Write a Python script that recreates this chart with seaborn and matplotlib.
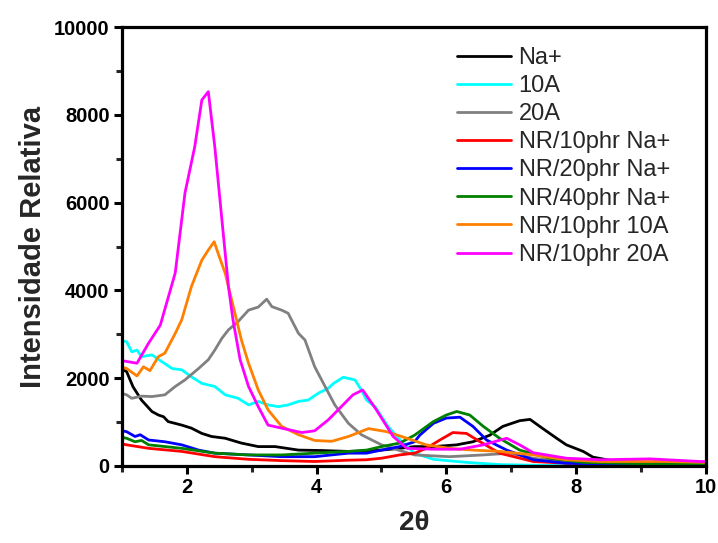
import pandas as pd
import matplotlib
matplotlib.use("Agg")
import matplotlib.pyplot as plt
import seaborn as sns
from matplotlib.ticker import MultipleLocator

# series (2theta, relative intensity)
na_x = [1.0, 1.07, 1.17, 1.30, 1.46, 1.56, 1.64, 1.71, 1.92, 2.07, 2.23, 2.38, 2.59, 2.84, 3.10, 3.36, 3.72, 4.08, 4.49, 4.77, 5.0, 5.28, 5.51, 5.80, 6.16, 6.41, 6.67, 6.87, 7.13, 7.29, 7.44, 7.70, 7.85, 8.11, 8.26, 8.62, 9.0, 9.39, 9.91, 10.0]
na_y = [2200, 2150, 1800, 1500, 1240, 1160, 1120, 1010, 930, 860, 740, 670, 630, 520, 440, 440, 360, 350, 330, 340, 360, 400, 440, 440, 480, 550, 700, 900, 1030, 1060, 900, 630, 480, 330, 200, 100, 80, 60, 45, 45]

a10_x = [1.0, 1.07, 1.15, 1.23, 1.30, 1.46, 1.61, 1.77, 1.92, 2.07, 2.23, 2.43, 2.59, 2.79, 2.95, 3.10, 3.25, 3.41, 3.56, 3.72, 3.87, 4.03, 4.18, 4.26, 4.41, 4.59, 4.69, 4.77, 4.90, 5.10, 5.31, 5.51, 5.80, 6.31, 6.82, 7.5, 8.5, 10.0]
a10_y = [2850, 2830, 2600, 2640, 2490, 2530, 2380, 2220, 2190, 2030, 1880, 1810, 1620, 1540, 1390, 1470, 1390, 1350, 1390, 1470, 1500, 1660, 1770, 1880, 2020, 1960, 1730, 1500, 1350, 900, 550, 290, 150, 80, 30, 10, 5, 5]

a20_x = [1.0, 1.07, 1.15, 1.30, 1.46, 1.66, 1.82, 1.97, 2.18, 2.33, 2.43, 2.54, 2.64, 2.79, 2.95, 3.10, 3.23, 3.31, 3.46, 3.56, 3.72, 3.82, 3.97, 4.13, 4.28, 4.49, 4.69, 5.0, 5.26, 5.51, 6.05, 6.57, 6.98, 7.34, 7.85, 8.88, 10.0]
a20_y = [1650, 1620, 1540, 1590, 1580, 1620, 1810, 1960, 2220, 2420, 2640, 2910, 3100, 3290, 3550, 3620, 3800, 3630, 3550, 3480, 3020, 2870, 2260, 1810, 1390, 970, 710, 480, 360, 250, 210, 250, 290, 175, 80, 25, 15]

nr10na_x = [1.0, 1.07, 1.41, 1.92, 2.43, 2.95, 3.46, 3.97, 4.49, 4.77, 5.0, 5.28, 5.51, 5.69, 5.90, 6.10, 6.31, 6.52, 6.82, 7.34, 7.85, 8.5, 10.0]
nr10na_y = [500, 480, 400, 330, 210, 150, 120, 100, 130, 140, 175, 250, 290, 400, 590, 760, 740, 550, 290, 100, 60, 40, 30]

nr20na_x = [1.0, 1.07, 1.20, 1.28, 1.41, 1.66, 1.92, 2.18, 2.43, 2.95, 3.46, 3.97, 4.49, 4.77, 5.0, 5.28, 5.51, 5.59, 5.80, 6.00, 6.21, 6.41, 6.62, 6.93, 7.34, 7.85, 8.5, 10.0]
nr20na_y = [800, 780, 670, 710, 590, 550, 480, 360, 290, 250, 210, 210, 290, 290, 360, 440, 550, 700, 970, 1090, 1110, 900, 590, 360, 140, 60, 40, 30]

nr40na_x = [1.0, 1.07, 1.20, 1.30, 1.41, 1.92, 2.43, 2.95, 3.46, 3.97, 4.49, 4.77, 5.0, 5.28, 5.51, 5.80, 6.00, 6.16, 6.36, 6.57, 6.82, 7.13, 7.59, 8.11, 9.0, 10.0]
nr40na_y = [650, 630, 550, 580, 480, 400, 290, 250, 250, 290, 330, 360, 440, 520, 700, 1010, 1160, 1240, 1160, 900, 630, 360, 175, 80, 50, 40]

nr10a10_x = [1.0, 1.07, 1.23, 1.33, 1.43, 1.56, 1.66, 1.82, 1.92, 2.07, 2.23, 2.33, 2.42, 2.48, 2.59, 2.74, 2.84, 2.95, 3.10, 3.25, 3.46, 3.72, 3.97, 4.23, 4.49, 4.80, 5.08, 5.39, 5.69, 6.05, 6.41, 6.82, 7.34, 7.85, 8.37, 9.39, 10.0]
nr10a10_y = [2250, 2220, 2050, 2260, 2170, 2490, 2570, 3020, 3330, 4090, 4690, 4920, 5110, 4850, 4390, 3480, 2870, 2340, 1730, 1280, 900, 710, 580, 560, 670, 850, 780, 630, 480, 400, 360, 330, 250, 140, 100, 100, 80]

nr10a20_x = [1.0, 1.07, 1.23, 1.41, 1.59, 1.82, 1.97, 2.12, 2.23, 2.33, 2.43, 2.54, 2.64, 2.71, 2.82, 2.95, 3.10, 3.25, 3.46, 3.77, 3.97, 4.18, 4.38, 4.56, 4.71, 4.92, 5.18, 5.39, 5.80, 6.21, 6.57, 6.93, 7.13, 7.34, 7.85, 8.37, 9.14, 9.91, 10.0]
nr10a20_y = [2400, 2380, 2340, 2800, 3210, 4400, 6220, 7270, 8340, 8530, 7270, 5600, 4090, 3330, 2420, 1810, 1350, 930, 860, 760, 800, 1050, 1350, 1620, 1730, 1280, 670, 400, 380, 380, 480, 630, 480, 300, 175, 140, 160, 100, 100]

labels = ["Na+", "10A", "20A", "NR/10phr Na+", "NR/20phr Na+",
          "NR/40phr Na+", "NR/10phr 10A", "NR/10phr 20A"]
colors = ["black", "#00FFFF", "#808080", "#FF0000", "#0000FF",
          "#008000", "#FF8000", "#FF00FF"]
xs = [na_x, a10_x, a20_x, nr10na_x, nr20na_x, nr40na_x, nr10a10_x, nr10a20_x]
ys = [na_y, a10_y, a20_y, nr10na_y, nr20na_y, nr40na_y, nr10a10_y, nr10a20_y]

# long form table for seaborn
frames = []
for lab, x, y in zip(labels, xs, ys):
    frames.append(pd.DataFrame({"2theta": x, "I": y, "amostra": lab}))
df = pd.concat(frames, ignore_index=True)

sns.set_style("ticks")
plt.rcParams['font.family'] = ['Liberation Sans', 'DejaVu Sans']

fig = plt.figure(figsize=(7.18, 5.43), dpi=100)
ax = fig.add_axes([0.170, 0.142, 0.813, 0.808])

sns.lineplot(data=df, x="2theta", y="I", hue="amostra", hue_order=labels,
             palette=dict(zip(labels, colors)), estimator=None, sort=False,
             linewidth=2, ax=ax)

ax.set_xlim(1, 10)
ax.set_ylim(0, 10000)
ax.xaxis.set_major_locator(MultipleLocator(2))
ax.xaxis.set_minor_locator(MultipleLocator(1))
ax.yaxis.set_major_locator(MultipleLocator(2000))
ax.yaxis.set_minor_locator(MultipleLocator(1000))

for s in ax.spines.values():
    s.set_visible(True)
    s.set_linewidth(2.3)
    s.set_color("black")

ax.tick_params(which="major", direction="out", length=6, width=2.2,
               labelsize=14.5, colors="black", pad=3)
ax.tick_params(which="minor", direction="out", length=4, width=2.2)
for t in ax.get_xticklabels() + ax.get_yticklabels():
    t.set_fontweight("bold")

ax.set_xlabel("2θ", fontsize=20, fontweight="bold", labelpad=9)
ax.set_ylabel("Intensidade Relativa", fontsize=21, fontweight="bold", labelpad=5)

ax.legend(loc="upper left", bbox_to_anchor=(0.574, 0.955), frameon=False,
          fontsize=17, handlelength=2.3, handletextpad=0.3, labelspacing=0.26,
          borderpad=0, borderaxespad=0)

fig.savefig("out.png", dpi=100)
